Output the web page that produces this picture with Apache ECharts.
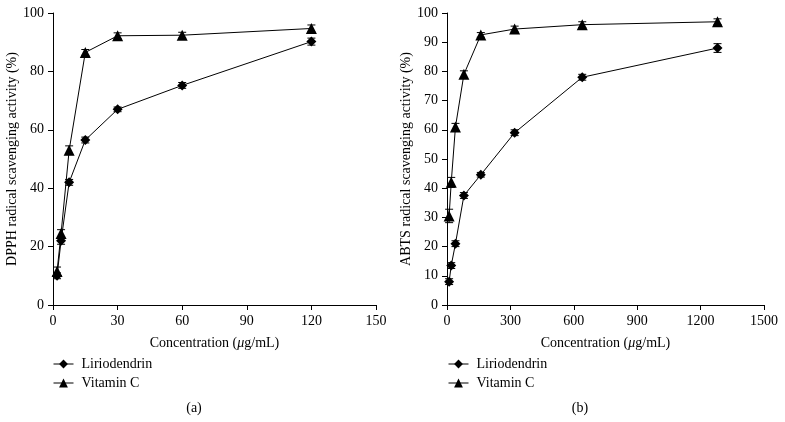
<!DOCTYPE html>
<html>
<head>
<meta charset="utf-8">
<script src="https://cdn.jsdelivr.net/npm/echarts@6/dist/echarts.min.js"></script>
<style>
html,body{margin:0;padding:0;background:#fff;}
#c{width:785px;height:422px;}
</style>
</head>
<body>
<div id="c"></div>
<script>
// Panel (a): DPPH
const dpphConc = [1.875, 3.75, 7.5, 15, 30, 60, 120];
const dpphLirio = [10, 22, 42, 56.5, 67, 75.2, 90.2];
const dpphLirioErr = [1, 1.2, 1, 1, 0.8, 1, 1.2];
const dpphVitC = [11.5, 24.5, 53, 86.5, 92.2, 92.4, 94.7];
const dpphVitCErr = [1.5, 1.3, 1.5, 1, 1, 1, 1.2];

// Panel (b): ABTS
const abtsConc = [10, 20, 40, 80, 160, 320, 640, 1280];
const abtsLirio = [8, 13.5, 21, 37.5, 44.6, 59, 78, 88];
const abtsLirioErr = [1, 1, 1, 1, 0.8, 1, 1, 1.5];
const abtsVitC = [30.5, 42, 61, 79, 92.5, 94.5, 96, 97];
const abtsVitCErr = [2.3, 1.7, 1.2, 1.2, 0.8, 1, 1, 1];

const seriesNames = ['Liriodendrin', 'Vitamin C'];
const xTicksA = {min: 0, max: 150, interval: 30};
const xTicksB = {min: 0, max: 1500, interval: 300};
const yTicksA = {min: 0, max: 100, interval: 20};
const yTicksB = {min: 0, max: 100, interval: 10};

const FONT = '"Liberation Serif", "Times New Roman", serif';
const FS = 14;
const chart = echarts.init(document.getElementById('c'), null, {renderer: 'canvas'});

function pts(xs, ys) { return xs.map((x, i) => [x, ys[i]]); }
function errData(xs, ys, es) { return xs.map((x, i) => [x, ys[i] - es[i], ys[i] + es[i]]); }

function errSeries(idx, data) {
  return {
    type: 'custom', xAxisIndex: idx, yAxisIndex: idx, silent: true, z: 3,
    data: data, encode: {x: 0, y: [1, 2]},
    renderItem: function (params, api) {
      const x = api.value(0);
      const lo = api.coord([x, api.value(1)]);
      const hi = api.coord([x, api.value(2)]);
      const w = 4;
      const st = {stroke: '#000', lineWidth: 1};
      return {type: 'group', children: [
        {type: 'line', shape: {x1: lo[0], y1: lo[1], x2: hi[0], y2: hi[1]}, style: st},
        {type: 'line', shape: {x1: lo[0] - w, y1: lo[1], x2: lo[0] + w, y2: lo[1]}, style: st},
        {type: 'line', shape: {x1: hi[0] - w, y1: hi[1], x2: hi[0] + w, y2: hi[1]}, style: st}
      ]};
    }
  };
}

function lineSeries(idx, name, data, symbol, size) {
  return {
    type: 'line', name: name, xAxisIndex: idx, yAxisIndex: idx, data: data,
    symbol: symbol, symbolSize: size, showAllSymbol: true, z: 4,
    lineStyle: {color: '#000', width: 1}, itemStyle: {color: '#000'},
    emphasis: {disabled: true}
  };
}

const axisCommon = {
  axisLine: {show: true, lineStyle: {color: '#000', width: 1}},
  axisTick: {show: true, length: 5, lineStyle: {color: '#000'}},
  splitLine: {show: false},
  axisLabel: {color: '#000', fontFamily: FONT, fontSize: FS, margin: 9,
              formatter: function (v) { return String(v); }},
  nameTextStyle: {color: '#000', fontFamily: FONT, fontSize: FS}
};

function xAxis(idx, t) {
  return Object.assign({}, axisCommon, {
    type: 'value', gridIndex: idx, min: t.min, max: t.max, interval: t.interval,
    name: 'Concentration ({i|μ}g/mL)', nameLocation: 'middle', nameGap: 31,
    nameTextStyle: Object.assign({}, axisCommon.nameTextStyle, {
      rich: {i: {fontStyle: 'italic', fontFamily: FONT, fontSize: FS, color: '#000'}}
    })
  });
}
function yAxis(idx, t, name) {
  return Object.assign({}, axisCommon, {
    type: 'value', gridIndex: idx, min: t.min, max: t.max, interval: t.interval,
    name: name, nameLocation: 'middle', nameGap: 28
  });
}

function legend(left) {
  return {
    data: seriesNames, orient: 'vertical', left: left, top: 357, padding: 0,
    itemWidth: 20, itemHeight: 11, itemGap: 5, selectedMode: false,
    textStyle: {color: '#000', fontFamily: FONT, fontSize: FS, padding: [0, 0, 0, 3]},
    itemStyle: {color: '#000'}, lineStyle: {color: '#000', width: 1}
  };
}

function caption(txt, x) {
  return {type: 'text', x: x, y: 408,
    style: {text: txt, textAlign: 'center', textVerticalAlign: 'middle',
            fill: '#000', font: FS + 'px ' + FONT}};
}

chart.setOption({
  animation: false,
  backgroundColor: '#fff',
  grid: [
    {left: 53, right: 409, top: 13, bottom: 117},
    {left: 447, right: 21, top: 13, bottom: 117}
  ],
  xAxis: [xAxis(0, xTicksA), xAxis(1, xTicksB)],
  yAxis: [
    yAxis(0, yTicksA, 'DPPH radical scavenging activity (%)'),
    yAxis(1, yTicksB, 'ABTS radical scavenging activity (%)')
  ],
  legend: [legend(53), legend(448)],
  graphic: [caption('(a)', 194), caption('(b)', 580)],
  series: [
    errSeries(0, errData(dpphConc, dpphLirio, dpphLirioErr)),
    errSeries(0, errData(dpphConc, dpphVitC, dpphVitCErr)),
    lineSeries(0, seriesNames[0], pts(dpphConc, dpphLirio), 'diamond', 10),
    lineSeries(0, seriesNames[1], pts(dpphConc, dpphVitC), 'triangle', 11),
    errSeries(1, errData(abtsConc, abtsLirio, abtsLirioErr)),
    errSeries(1, errData(abtsConc, abtsVitC, abtsVitCErr)),
    lineSeries(1, seriesNames[0], pts(abtsConc, abtsLirio), 'diamond', 10),
    lineSeries(1, seriesNames[1], pts(abtsConc, abtsVitC), 'triangle', 11)
  ]
});
</script>
</body>
</html>
